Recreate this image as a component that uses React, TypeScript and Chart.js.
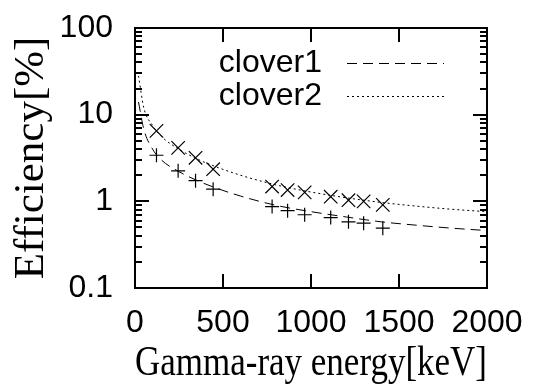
import React, { useEffect, useRef } from "react";
import { Chart, registerables } from "chart.js";

Chart.register(...registerables);

// Measured points (Eu-152 lines)
const energies = [122, 245, 344, 444, 779, 867, 964, 1112, 1213, 1299, 1408];
const clover1Eff = [3.4, 2.25, 1.73, 1.38, 0.87, 0.78, 0.7, 0.65, 0.58, 0.56, 0.49];
const clover2Eff = [6.5, 4.14, 3.18, 2.35, 1.48, 1.35, 1.27, 1.13, 1.03, 1.0, 0.91];

// Fit curves
const fitEnergies = [20, 50, 100, 150, 250, 350, 450, 600, 800, 1000, 1200, 1400, 1600, 1800, 2000];
const clover1Fit = [14, 6.8, 4.0, 3.0, 2.2, 1.75, 1.45, 1.15, 0.9, 0.76, 0.66, 0.58, 0.53, 0.49, 0.46];
const clover2Fit = [28, 12, 7.5, 5.6, 4.0, 3.1, 2.55, 2.0, 1.55, 1.28, 1.1, 0.97, 0.88, 0.81, 0.76];

const yTickValues = [0.1, 1, 10, 100];
const xTickValues = [0, 500, 1000, 1500, 2000];

const seriesLabels = ["clover1", "clover2"];
const xTitle = "Gamma-ray energy[keV]";
const yTitle = "Efficiency[%]";

const SANS = "'Liberation Sans', Arial, sans-serif";
const SERIF = "'Liberation Serif', 'Times New Roman', serif";

const framePlugin = {
  id: "frame",
  beforeDraw(chart: any) {
    const { ctx } = chart;
    ctx.save();
    ctx.fillStyle = "#fff";
    ctx.fillRect(0, 0, chart.width, chart.height);
    ctx.restore();
  },
  afterDraw(chart: any) {
    const { ctx, chartArea } = chart;
    const { left, right, top, bottom } = chartArea;
    const xs = chart.scales.x;
    const ys = chart.scales.y;
    ctx.save();
    ctx.strokeStyle = "#000";
    ctx.lineWidth = 2;
    ctx.strokeRect(left, top, right - left, bottom - top);
    const major = 14;
    const minor = 7;
    ctx.beginPath();
    ys.ticks.forEach((t: any) => {
      const y = Math.round(ys.getPixelForValue(t.value));
      ctx.moveTo(left, y);
      ctx.lineTo(left + major, y);
      ctx.moveTo(right, y);
      ctx.lineTo(right - major, y);
    });
    const lo = Math.floor(Math.log10(ys.min));
    const hi = Math.ceil(Math.log10(ys.max));
    for (let d = lo; d < hi; d++) {
      for (let k = 2; k <= 9; k++) {
        const v = k * Math.pow(10, d);
        if (v < ys.min || v > ys.max) continue;
        const y = Math.round(ys.getPixelForValue(v));
        ctx.moveTo(left, y);
        ctx.lineTo(left + minor, y);
        ctx.moveTo(right, y);
        ctx.lineTo(right - minor, y);
      }
    }
    xs.ticks.forEach((t: any) => {
      const x = Math.round(xs.getPixelForValue(t.value));
      ctx.moveTo(x, bottom);
      ctx.lineTo(x, bottom - major);
      ctx.moveTo(x, top);
      ctx.lineTo(x, top + major);
    });
    ctx.stroke();

    // legend (gnuplot style: text then sample line)
    ctx.font = `32px ${SANS}`;
    ctx.fillStyle = "#000";
    ctx.textAlign = "right";
    ctx.textBaseline = "middle";
    const textRight = left + 187;
    const lineL = left + 212;
    const lineR = left + 309;
    const rowY = [top + 35, top + 68];
    [0, 1].forEach((i) => {
      const ds = chart.data.datasets[i];
      ctx.fillText(ds.label, textRight, rowY[i]);
      ctx.save();
      ctx.lineWidth = 1;
      ctx.setLineDash(ds.borderDash);
      ctx.beginPath();
      ctx.moveTo(lineL, rowY[i] + 0.5);
      ctx.lineTo(lineR, rowY[i] + 0.5);
      ctx.stroke();
      ctx.restore();
    });
    ctx.restore();
  },
};

export default function App() {
  const ref = useRef<HTMLCanvasElement>(null);
  useEffect(() => {
    const canvas = ref.current;
    if (!canvas) return;
    const chart = new Chart(canvas, {
      type: "scatter",
      data: {
        datasets: [
          {
            label: seriesLabels[0],
            type: "line",
            data: fitEnergies.map((x, i) => ({ x, y: clover1Fit[i] })),
            borderColor: "#000",
            borderWidth: 1,
            borderDash: [10, 6],
            pointRadius: 0,
            cubicInterpolationMode: "monotone",
            fill: false,
          },
          {
            label: seriesLabels[1],
            type: "line",
            data: fitEnergies.map((x, i) => ({ x, y: clover2Fit[i] })),
            borderColor: "#000",
            borderWidth: 1,
            borderDash: [2, 3],
            pointRadius: 0,
            cubicInterpolationMode: "monotone",
            fill: false,
          },
          {
            label: seriesLabels[0] + " data",
            data: energies.map((x, i) => ({ x, y: clover1Eff[i] })),
            pointStyle: "cross",
            pointRadius: 7,
            borderColor: "#000",
            borderWidth: 1.2,
            showLine: false,
          },
          {
            label: seriesLabels[1] + " data",
            data: energies.map((x, i) => ({ x, y: clover2Eff[i] })),
            pointStyle: "crossRot",
            pointRadius: 9.5,
            borderColor: "#000",
            borderWidth: 1.2,
            showLine: false,
          },
        ],
      } as any,
      options: {
        animation: false,
        responsive: false,
        maintainAspectRatio: false,
        layout: { padding: { left: 0, top: 28, right: 47, bottom: 0 } },
        plugins: { legend: { display: false }, tooltip: { enabled: false } },
        scales: {
          x: {
            type: "linear",
            min: 0,
            max: 2000,
            grid: { display: true, drawOnChartArea: false, drawTicks: true, tickLength: 16, color: "rgba(0,0,0,0)" },
            border: { display: false },
            afterBuildTicks: (s: any) => {
              s.ticks = xTickValues.map((v) => ({ value: v }));
            },
            afterFit: (s: any) => {
              s.height = 97;
            },
            ticks: {
              color: "#000",
              padding: 0,
              maxRotation: 0,
              font: { family: SANS, size: 32 },
              callback: (v: any) => String(v),
            },
            title: {
              display: true,
              text: xTitle,
              color: "#000",
              font: { family: SERIF, size: 43, lineHeight: 1 },
              padding: { top: 0, bottom: 0 },
            },
          },
          y: {
            type: "logarithmic",
            min: 0.1,
            max: 100,
            grid: { display: true, drawOnChartArea: false, drawTicks: true, tickLength: 22, color: "rgba(0,0,0,0)" },
            border: { display: false },
            afterBuildTicks: (s: any) => {
              s.ticks = yTickValues.map((v) => ({ value: v, major: true }));
            },
            afterFit: (s: any) => {
              s.width = 135;
            },
            ticks: {
              color: "#000",
              padding: 0,
              font: { family: SANS, size: 32 },
              callback: (v: any) => String(v),
            },
            title: {
              display: true,
              text: yTitle,
              color: "#000",
              font: { family: SERIF, size: 43, lineHeight: 1 },
              padding: { top: 10, bottom: 0 },
            },
          },
        },
      } as any,
      plugins: [framePlugin],
    });
    return () => chart.destroy();
  }, []);
  return (
    <div style={{ position: "fixed", left: 0, top: 0, width: 534, height: 385, background: "#fff" }}>
      <canvas ref={ref} width={534} height={385} style={{ display: "block" }} />
    </div>
  );
}
